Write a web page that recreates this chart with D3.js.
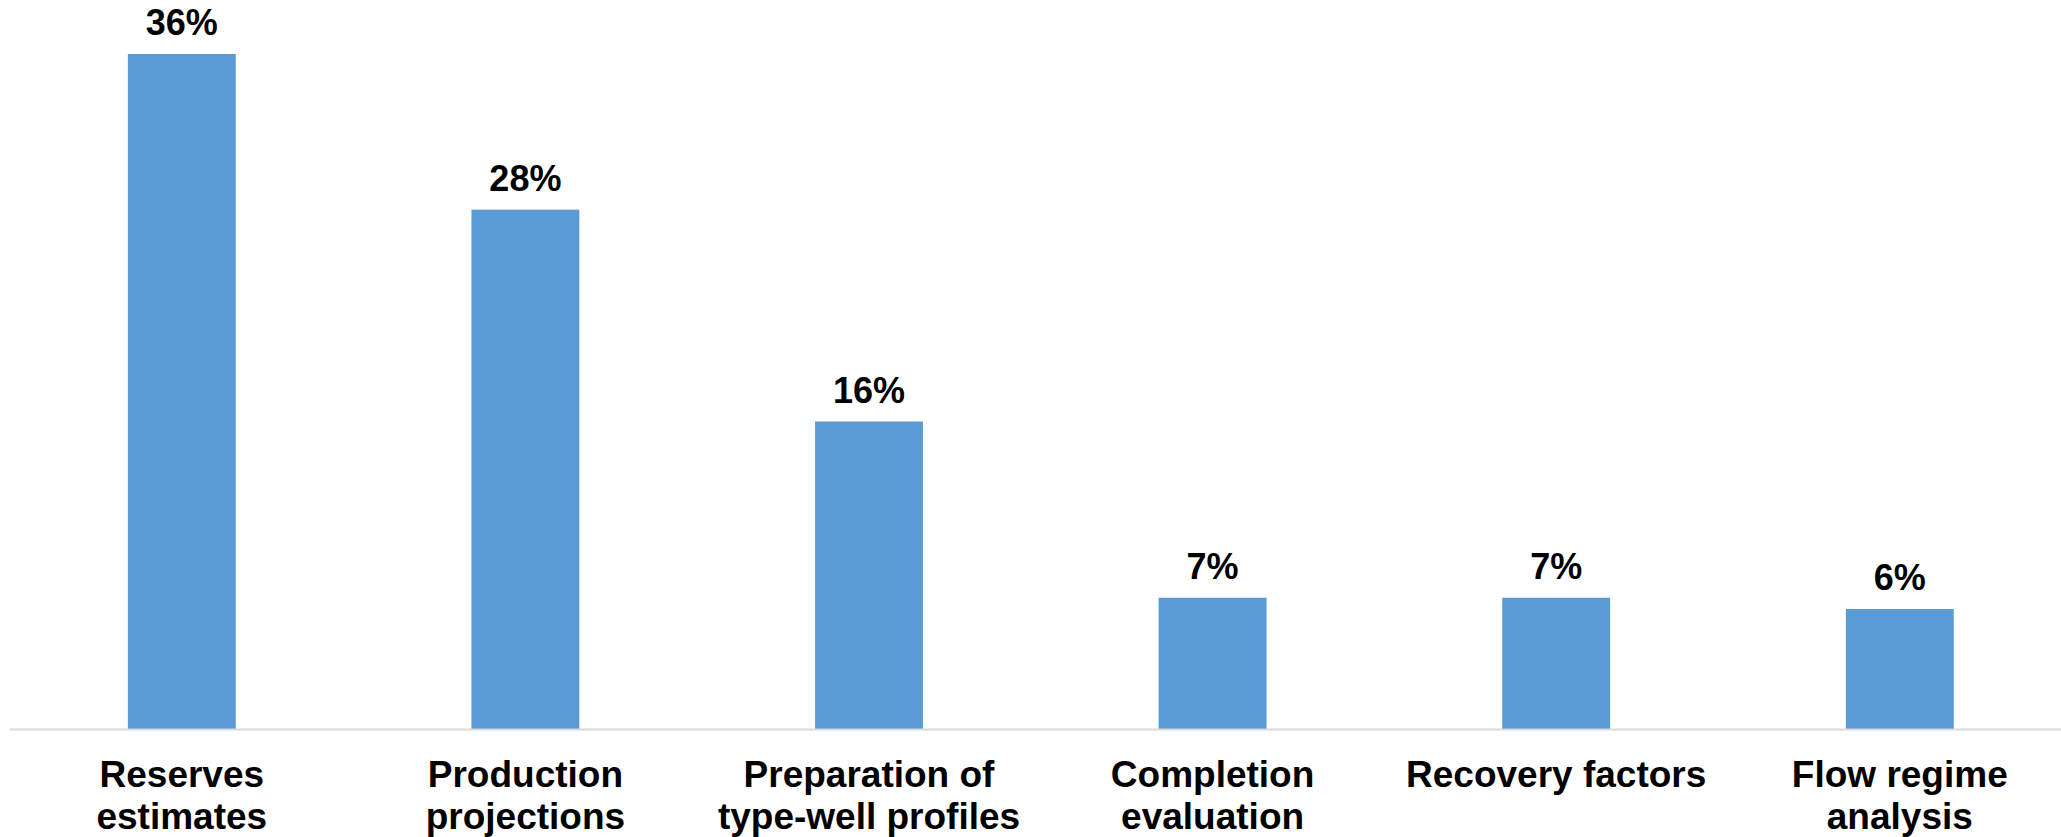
<!DOCTYPE html>
<html>
<head>
<meta charset="utf-8">
<script src="https://cdn.jsdelivr.net/npm/d3@7"></script>
<style>
  html, body { margin: 0; padding: 0; background: #ffffff; overflow: hidden; }
  svg { display: block; font-family: "Liberation Sans", Arial, Helvetica, sans-serif; }
</style>
</head>
<body>
<svg id="chart" width="2061" height="837"></svg>
<script>
// Share of respondents by primary use case (percent)
const categories = [
  ["Reserves", "estimates"],
  ["Production", "projections"],
  ["Preparation of", "type-well profiles"],
  ["Completion", "evaluation"],
  ["Recovery factors"],
  ["Flow regime", "analysis"]
];
const values = [36.0, 27.7, 16.4, 7.0, 7.0, 6.4];

const width = 2061, height = 837;
const baseline = 729;

const svg = d3.select("#chart");

const keys = categories.map(c => c.join(" "));

const x = d3.scaleBand()
  .domain(keys)
  .range([10, 2071.6])
  .paddingInner(0.686)
  .paddingOuter(0.343);

const y = d3.scaleLinear()
  .domain([0, 36])
  .range([baseline, 54]);

const fmt = v => d3.format(".0f")(v) + "%";

// Bars
svg.append("g")
  .selectAll("rect")
  .data(values)
  .join("rect")
  .attr("x", (d, i) => x(keys[i]))
  .attr("y", d => y(d))
  .attr("width", x.bandwidth())
  .attr("height", d => y(0) - y(d))
  .attr("fill", "#5b9bd5");

// Category axis line
svg.append("line")
  .attr("x1", 10)
  .attr("x2", width)
  .attr("y1", baseline + 0.5)
  .attr("y2", baseline + 0.5)
  .attr("stroke", "#d9d9d9")
  .attr("stroke-width", 2);

// Value labels above bars
svg.append("g")
  .selectAll("text")
  .data(values)
  .join("text")
  .attr("x", (d, i) => x(keys[i]) + x.bandwidth() / 2)
  .attr("y", d => y(d) - 19)
  .attr("text-anchor", "middle")
  .attr("font-size", 36)
  .attr("font-weight", "bold")
  .attr("fill", "#000")
  .text(d => fmt(d));

// Category labels, one tspan per line
const cat = svg.append("g")
  .selectAll("text")
  .data(categories)
  .join("text")
  .attr("x", (d, i) => x(keys[i]) + x.bandwidth() / 2)
  .attr("y", 787)
  .attr("text-anchor", "middle")
  .attr("font-size", 37)
  .attr("font-weight", "bold")
  .attr("fill", "#000");

cat.selectAll("tspan")
  .data(d => d)
  .join("tspan")
  .attr("x", function() { return d3.select(this.parentNode).attr("x"); })
  .attr("dy", (d, i) => i === 0 ? 0 : 42)
  .text(d => d);
</script>
</body>
</html>
